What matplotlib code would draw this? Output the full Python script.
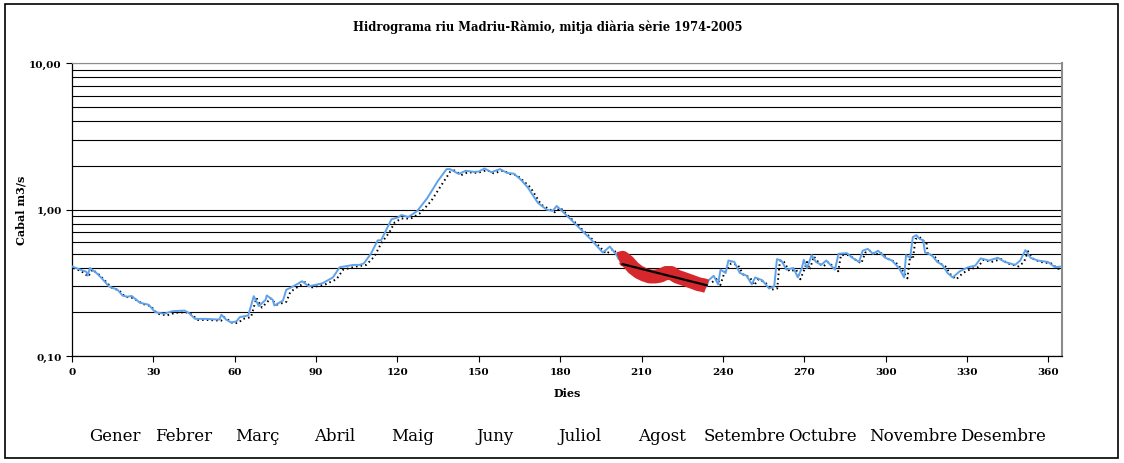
import numpy as np
import matplotlib
matplotlib.use("Agg")
import matplotlib.pyplot as plt
import matplotlib.ticker as mticker
import matplotlib.transforms as mtrans
from matplotlib.patches import Rectangle

# Hidrograma riu Madriu-Ramio (mitja diaria 1974-2005), valors llegits del grafic

# serie mitjana diaria (linia blava)
dies = [0, 3, 5.3, 5.8, 6.6, 9, 11, 13.6, 16.8, 18.7, 20.5, 22, 25, 28.2, 30.7, 34, 37,
        41.5, 43, 45.4, 49.2, 54.3, 55.1, 56.8, 58.7, 60.6, 61.9, 65, 67, 68.9, 71.4,
        71.8, 74, 74.6, 77.8, 79, 81.6, 84.8, 87.3, 92.4, 96.2, 98.7, 103.8, 106, 107.6,
        110.2, 112.7, 114, 115.9, 117.8, 120.3, 121.5, 124, 127.3, 131, 134.9, 138.1,
        139.4, 142.6, 145.1, 148.3, 150, 152.1, 154.6, 157.8, 160.4, 162.9, 165.5, 168,
        171.8, 175, 177.2, 178.7, 183, 187.4, 191.2, 195.7, 198.3, 200.8,
        201.5, 203, 205, 207, 209, 211, 213, 215, 217, 219, 221, 223, 225, 227, 229,
        231, 233, 234,
        234.7, 236.6, 238.2, 239.1, 241, 242, 244.2, 246.2, 248.7, 250.6, 251.9, 254.5,
        257, 258.9, 259.9, 261.5, 263.4, 266, 267.6, 269.1, 269.8, 271, 272.7, 274.3,
        276.2, 278.1, 279.6, 281.3, 282.6, 285.7, 287.7, 290.2, 291.5, 293.4, 295.3,
        297.2, 299.8, 302.3, 304.9, 306.8, 307.5, 309, 310, 311.3, 312.6, 313.8, 314.5,
        317, 319, 320.9, 322.8, 324.7, 327.3, 330.4, 333, 335, 338.1, 341.3, 343.9,
        347.7, 349.6, 351.5, 353.4, 356, 359.8, 362.4, 365]
cabal = [0.41, 0.39, 0.377, 0.355, 0.40, 0.37, 0.34, 0.30, 0.284, 0.259, 0.255, 0.258,
         0.232, 0.225, 0.20, 0.195, 0.203, 0.205, 0.198, 0.18, 0.18, 0.178, 0.192, 0.178,
         0.17, 0.173, 0.185, 0.19, 0.257, 0.22, 0.243, 0.26, 0.243, 0.222, 0.24, 0.284,
         0.30, 0.325, 0.30, 0.315, 0.345, 0.405, 0.42, 0.42, 0.43, 0.50, 0.617, 0.62,
         0.73, 0.86, 0.886, 0.92, 0.89, 0.98, 1.2, 1.57, 1.89, 1.89, 1.75, 1.84, 1.81,
         1.82, 1.91, 1.80, 1.89, 1.78, 1.76, 1.6, 1.42, 1.11, 1.0, 0.98, 1.06, 0.89,
         0.74, 0.63, 0.51, 0.56, 0.49,
         0.46, 0.47, 0.44, 0.40, 0.375, 0.36, 0.35, 0.35, 0.355, 0.37, 0.37, 0.35, 0.34,
         0.33, 0.32, 0.31, 0.305, 0.30,
         0.33, 0.354, 0.31, 0.39, 0.37, 0.45, 0.44, 0.37, 0.355, 0.31, 0.345, 0.33, 0.29,
         0.30, 0.46, 0.45, 0.39, 0.40, 0.345, 0.40, 0.455, 0.40, 0.49, 0.44, 0.42, 0.45,
         0.42, 0.39, 0.50, 0.505, 0.47, 0.44, 0.525, 0.54, 0.50, 0.525, 0.47, 0.45, 0.40,
         0.345, 0.49, 0.47, 0.65, 0.67, 0.63, 0.62, 0.51, 0.49, 0.44, 0.42, 0.37, 0.345,
         0.38, 0.405, 0.415, 0.465, 0.45, 0.47, 0.44, 0.42, 0.45, 0.53, 0.47, 0.45, 0.44,
         0.405, 0.41]

# segona serie (punts negres), abans i despres del periode en vermell
dies_punts_a = [0.5, 3.5, 6, 7.5, 10, 12, 14.5, 17.5, 19.5, 22.5, 26, 29, 31.5, 35, 38, 42,
                44, 46.5, 50, 55, 56, 58, 59.5, 61.5, 63, 66, 68, 70, 72.5, 73, 75.5, 79,
                80.5, 83, 86, 88.5, 93.5, 97.5, 100, 105, 108.5, 111.5, 114, 117, 119,
                121.5, 125, 128.5, 132.5, 136.5, 139.5, 141, 143.5, 146, 149.5, 153, 155.5,
                159, 161.5, 164, 169, 173, 178, 180, 184, 188.5, 192.5, 197, 199.5, 202]
cabal_punts_a = [0.40, 0.38, 0.35, 0.39, 0.36, 0.33, 0.295, 0.28, 0.255, 0.25, 0.228, 0.22,
                 0.195, 0.19, 0.198, 0.20, 0.193, 0.177, 0.177, 0.175, 0.185, 0.175, 0.167,
                 0.17, 0.18, 0.185, 0.25, 0.215, 0.24, 0.25, 0.225, 0.235, 0.275, 0.295,
                 0.32, 0.295, 0.31, 0.335, 0.39, 0.41, 0.42, 0.48, 0.59, 0.70, 0.82, 0.87,
                 0.87, 0.95, 1.15, 1.5, 1.82, 1.85, 1.72, 1.8, 1.78, 1.86, 1.77, 1.85, 1.75,
                 1.72, 1.42, 1.08, 0.96, 1.03, 0.87, 0.72, 0.61, 0.50, 0.54, 0.47]
dies_punts_b = [236, 238, 239, 240.5, 243, 245.5, 247.5, 250, 251.5, 253, 255.5, 258, 260,
                261, 262.5, 264.5, 267, 268.5, 270, 271, 272, 273.5, 275.5, 277, 279, 280.5,
                282.5, 283.5, 286.5, 288.5, 291, 292.5, 294.5, 296, 298, 301, 303.5, 306,
                308, 309, 310, 311, 312.5, 314, 315, 315.5, 318, 320, 322, 324, 326, 328.5,
                331.5, 334, 336, 339, 342.5, 345, 349, 351, 352.5, 354.5, 357, 361, 363.5, 365]
cabal_punts_b = [0.32, 0.34, 0.305, 0.37, 0.43, 0.42, 0.36, 0.345, 0.305, 0.335, 0.32, 0.285,
                 0.29, 0.45, 0.44, 0.38, 0.39, 0.335, 0.39, 0.44, 0.39, 0.48, 0.43, 0.41,
                 0.44, 0.41, 0.38, 0.49, 0.49, 0.46, 0.43, 0.51, 0.525, 0.49, 0.51, 0.46,
                 0.44, 0.39, 0.34, 0.48, 0.46, 0.63, 0.65, 0.61, 0.60, 0.50, 0.48, 0.43,
                 0.41, 0.36, 0.335, 0.37, 0.395, 0.405, 0.455, 0.44, 0.46, 0.43, 0.41, 0.44,
                 0.52, 0.46, 0.44, 0.43, 0.395, 0.40]

# periode de recessio (en vermell) i recta d'ajust
inici_recessio, final_recessio = 201.5, 234
ajust_dies = [203, 234]
ajust_cabal = [0.425, 0.305]

mesos = ['Gener', 'Febrer', 'Març', 'Abril', 'Maig', 'Juny', 'Juliol', 'Agost',
         'Setembre', 'Octubre', 'Novembre', 'Desembre']
dia_etiqueta = [15.8, 41.1, 68.5, 97, 125.7, 155.8, 187.1, 217.4, 248.1, 276.5, 310.3, 343.1]

dies = np.array(dies)
cabal = np.array(cabal)
rec = (dies >= inici_recessio) & (dies <= final_recessio)

fig = plt.figure(figsize=(11.24, 4.64), dpi=100)
ax = fig.add_axes([72/1124, 1-357.3/464, 990/1124, (357.3-64)/464])

punts = dict(color='black', lw=1.4, ls=(0, (0.8, 1.6)), zorder=2)
ax.plot(dies_punts_a, cabal_punts_a, **punts)
ax.plot(dies_punts_b, cabal_punts_b, **punts)
ax.plot(dies, cabal, color='#5EA2EC', lw=1.4, zorder=3)
ax.plot(dies[rec], cabal[rec], color='#D6272C', lw=10, solid_capstyle='butt',
        solid_joinstyle='round', zorder=4)
ax.plot(ajust_dies, ajust_cabal, color='black', lw=1.6, zorder=5)

ax.set_yscale('log')
ax.set_ylim(0.1, 10)
ax.set_xlim(0, 365)
ax.set_xticks(np.arange(0, 361, 30))
ax.yaxis.set_major_locator(mticker.FixedLocator([0.1, 1, 10]))
ax.yaxis.set_minor_locator(mticker.LogLocator(base=10, subs=np.arange(2, 10)))
ax.yaxis.set_minor_formatter(mticker.NullFormatter())
ax.yaxis.set_major_formatter(mticker.FuncFormatter(lambda v, p: f"{v:.2f}".replace('.', ',')))
ax.grid(True, which='both', axis='y', color='black', lw=0.8)
ax.set_axisbelow(True)

ax.tick_params(axis='both', which='major', direction='out', length=4, width=0.8,
               labelsize=7.5)
ax.tick_params(axis='y', which='minor', length=0)
for lab in ax.get_xticklabels() + ax.get_yticklabels():
    lab.set_fontfamily('DejaVu Serif')
    lab.set_fontweight('bold')

ax.spines['top'].set_color('#8c8c8c')
ax.spines['right'].set_color('#8c8c8c')
ax.spines['right'].set_linewidth(1.5)
ax.spines['left'].set_linewidth(0.9)
ax.spines['bottom'].set_linewidth(0.9)

ax.set_xlabel('Dies', fontfamily='DejaVu Serif', fontweight='bold', fontsize=8, labelpad=8)
ax.set_ylabel('Cabal m3/s', fontfamily='DejaVu Serif', fontweight='bold', fontsize=8,
              labelpad=2)

fig.text(548/1124, 1-27/464, 'Hidrograma riu Madriu-Ràmio, mitja diària sèrie 1974-2005',
         ha='center', va='center', fontfamily='DejaVu Serif', fontweight='bold', fontsize=8.3)

trans = mtrans.blended_transform_factory(ax.transData, fig.transFigure)
for mes, d in zip(mesos, dia_etiqueta):
    ax.text(d, 1-437/464, mes, transform=trans, ha='center', va='center',
            fontfamily='DejaVu Serif', fontsize=12)

fig.patches.append(Rectangle((5/1124, 1-459/464), 1113/1124, 454/464, transform=fig.transFigure,
                             fill=False, edgecolor='black', lw=1.2))

fig.savefig('out.png', dpi=100)
